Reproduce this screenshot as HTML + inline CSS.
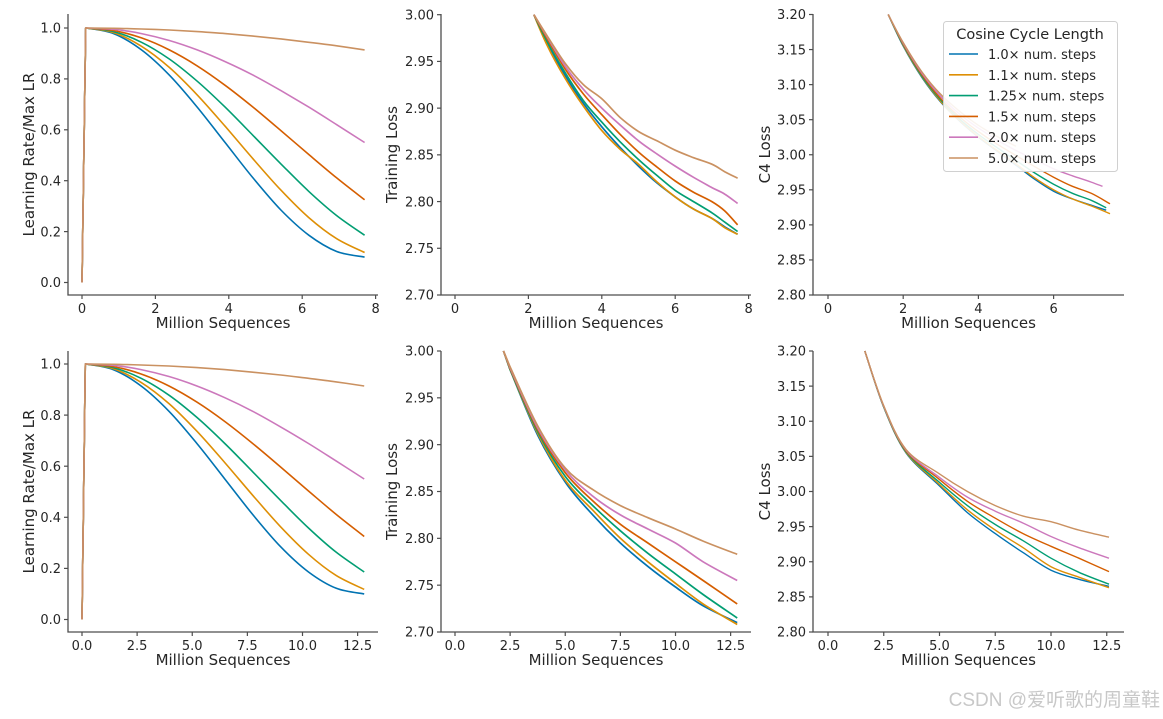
<!DOCTYPE html>
<html><head><meta charset="utf-8">
<style>
html,body{margin:0;padding:0;background:#fff;}
svg{display:block;font-family:"DejaVu Sans","Liberation Sans",sans-serif;}
.tk{font-size:13px;fill:#262626;}
.al{font-size:15px;fill:#262626;}
</style></head>
<body>
<svg id="fig" width="1163" height="719" viewBox="0 0 1163 719"></svg>
<script>
const seriesNames=["1.0× num. steps","1.1× num. steps","1.25× num. steps","1.5× num. steps","2.0× num. steps","5.0× num. steps"];
const seriesColors=["#0173b2","#de8f05","#029e73","#d55e00","#cc78bc","#ca9161"];
// LR schedule: fraction of run and LR values per cycle length
const lrFrac=[0,0.1,0.2,0.3,0.4,0.5,0.6,0.7,0.8,0.9,1.0];
const lrVals=[
[1,0.978,0.914,0.815,0.689,0.55,0.411,0.285,0.186,0.122,0.1],
[1,0.982,0.928,0.845,0.737,0.614,0.486,0.363,0.255,0.172,0.118],
[1,0.986,0.944,0.878,0.791,0.689,0.578,0.466,0.358,0.263,0.186],
[1,0.990,0.961,0.914,0.851,0.775,0.689,0.597,0.503,0.411,0.325],
[1,0.995,0.978,0.951,0.914,0.868,0.815,0.754,0.689,0.620,0.55],
[1,0.999,0.996,0.992,0.986,0.978,0.968,0.957,0.944,0.930,0.914]];
const lrEnd1=7.7, lrWarm1=0.1, lrEnd2=12.8, lrWarm2=0.15;
// Row 1 training loss
const tr1X=[2.15,2.5,3,3.5,4,4.5,5,5.5,6,6.5,7,7.35,7.7];
const tr1Vals=[
[3.0,2.97,2.935,2.905,2.88,2.858,2.838,2.82,2.805,2.792,2.782,2.773,2.765],
[3.0,2.968,2.932,2.902,2.876,2.856,2.84,2.821,2.805,2.792,2.782,2.772,2.765],
[3.0,2.972,2.938,2.908,2.885,2.864,2.845,2.828,2.812,2.8,2.788,2.778,2.768],
[3.0,2.975,2.942,2.915,2.893,2.872,2.853,2.837,2.822,2.81,2.8,2.79,2.775],
[3.0,2.977,2.945,2.92,2.9,2.882,2.865,2.851,2.838,2.826,2.815,2.808,2.798],
[3.0,2.978,2.948,2.925,2.91,2.89,2.875,2.865,2.855,2.847,2.84,2.832,2.825]];
// Row 1 C4 loss
const c41X=[1.6,2,2.5,3,3.5,4,4.5,5,5.5,6,6.5,7,7.45];
const c41Vals=[
[3.2,3.155,3.11,3.075,3.048,3.025,3.005,2.985,2.965,2.948,2.937,2.928,2.920],
[3.2,3.156,3.111,3.076,3.049,3.026,3.006,2.987,2.967,2.950,2.937,2.927,2.916],
[3.2,3.157,3.112,3.078,3.051,3.029,3.01,2.992,2.974,2.958,2.945,2.935,2.923],
[3.2,3.158,3.114,3.08,3.054,3.033,3.015,2.999,2.983,2.968,2.955,2.945,2.930],
[3.2,3.159,3.116,3.083,3.058,3.038,3.021,3.006,2.993,2.980,2.970,2.961,2.952],
[3.2,3.16,3.118,3.086,3.062,3.042,3.026,3.012,3.0,2.99,2.98,2.972,2.965]];
const c41End=[7.4,7.5,7.4,7.5,7.3,5.0];
// Row 2 training loss
const tr2X=[2.2,2.5,3.75,5,6.25,7.5,8.75,10,11.25,12.8];
const tr2Vals=[
[3.0,2.98,2.91,2.86,2.825,2.795,2.77,2.748,2.728,2.710],
[3.0,2.98,2.912,2.862,2.83,2.80,2.775,2.752,2.73,2.708],
[3.0,2.98,2.914,2.866,2.835,2.808,2.784,2.762,2.74,2.715],
[3.0,2.981,2.916,2.87,2.84,2.815,2.795,2.775,2.755,2.73],
[3.0,2.982,2.918,2.873,2.845,2.825,2.81,2.795,2.775,2.755],
[3.0,2.983,2.92,2.875,2.852,2.835,2.822,2.81,2.797,2.783]];
// Row 2 C4 loss
const c42X=[1.65,2.5,3.5,5,6.25,7.5,8.75,10,11.25,12.6];
const c42Vals=[
[3.2,3.12,3.055,3.008,2.97,2.94,2.913,2.888,2.875,2.865],
[3.2,3.12,3.056,3.01,2.974,2.945,2.92,2.893,2.878,2.863],
[3.2,3.12,3.057,3.013,2.98,2.953,2.93,2.905,2.885,2.868],
[3.2,3.121,3.058,3.017,2.986,2.962,2.94,2.922,2.905,2.886],
[3.2,3.121,3.059,3.02,2.992,2.972,2.955,2.936,2.92,2.905],
[3.2,3.122,3.06,3.025,3.0,2.98,2.965,2.957,2.945,2.935]];
const lrTicks=["0.0","0.2","0.4","0.6","0.8","1.0"];
const trTicks=["2.70","2.75","2.80","2.85","2.90","2.95","3.00"];
const c4Ticks=["2.80","2.85","2.90","2.95","3.00","3.05","3.10","3.15","3.20"];
const x1Ticks=["0","2","4","6","8"];
const x1cTicks=["0","2","4","6"];
const x2Ticks=["0.0","2.5","5.0","7.5","10.0","12.5"];

const NS="http://www.w3.org/2000/svg";
const svg=document.getElementById('fig');
function mk(tag,attrs,parent,txt){const e=document.createElementNS(NS,tag);for(const k in attrs)e.setAttribute(k,attrs[k]);if(txt!==undefined)e.textContent=txt;(parent||svg).appendChild(e);return e;}
function smoothPath(P){
  let d='M'+P[0][0].toFixed(1)+','+P[0][1].toFixed(1);
  for(let i=0;i<P.length-1;i++){
    const p0=P[Math.max(0,i-1)],p1=P[i],p2=P[i+1],p3=P[Math.min(P.length-1,i+2)];
    if(p2[0]-p1[0]<8){d+='L'+p2[0].toFixed(1)+','+p2[1].toFixed(1);continue;}
    const a=(i>0&&P[i][0]-P[i-1][0]<8)?p1:p0;
    const c1=[p1[0]+(p2[0]-a[0])/6,p1[1]+(p2[1]-a[1])/6];
    const c2=[p2[0]-(p3[0]-p1[0])/6,p2[1]-(p3[1]-p1[1])/6];
    d+='C'+c1[0].toFixed(1)+','+c1[1].toFixed(1)+' '+c2[0].toFixed(1)+','+c2[1].toFixed(1)+' '+p2[0].toFixed(1)+','+p2[1].toFixed(1);
  }
  return d;
}
function panel(p){
  const g=mk('g',{});
  
  
  const X=v=>p.x0+v*p.xs;
  const Y=v=>p.yA+(v-p.vA)*(p.yB-p.yA)/(p.vB-p.vA);
  p.series.forEach((s,i)=>{
    const pts=s.x.map((xv,j)=>[X(xv),Y(s.y[j])]);
    const path=mk('path',{d:smoothPath(pts),fill:'none',stroke:seriesColors[i],'stroke-width':p.sw||1.6,'stroke-linejoin':'round'},g);
    
    
  });
  const sp=mk('path',{d:`M${p.l},${p.t}V${p.b}H${p.r}`,fill:'none',stroke:'#4d4d4d','stroke-width':1.3},g);
  
  
  p.yt.forEach(t=>{const y=Y(parseFloat(t));
    mk('line',{x1:p.l-4,x2:p.l,y1:y,y2:y,stroke:'#4d4d4d','stroke-width':1.2},g);
    const tx=mk('text',{x:p.l-7,y:y+4.7,'text-anchor':'end',class:'tk'},g,t);
    
    
  });
  p.xt.forEach(t=>{const x=X(parseFloat(t));
    mk('line',{x1:x,x2:x,y1:p.b,y2:p.b+4,stroke:'#4d4d4d','stroke-width':1.2},g);
    const tx=mk('text',{x:x,y:p.b+18,'text-anchor':'middle',class:'tk'},g,t);
    
    
  });
  const xl=mk('text',{x:(p.l+p.r)/2,y:p.b+33,'text-anchor':'middle',class:'al'},g,'Million Sequences');
  
  
  const cy=(p.t+p.b)/2;
  const yl=mk('text',{x:p.ylx,y:cy,'text-anchor':'middle',class:'al',transform:`rotate(-90 ${p.ylx} ${cy})`},g,p.ylab);
  
  
}
function lrSeries(end,warm){return lrVals.map(v=>({x:[0].concat(lrFrac.map(u=>warm+u*(end-warm))),y:[0].concat(v)}));}
function simple(xs,vals,ends){return vals.map((v,i)=>{let x=xs.slice(),y=v.slice();if(ends){const n=x.filter(a=>a<ends[i]).length;x=x.slice(0,n);y=y.slice(0,n);const k=n-1;if(x[k]<ends[i]&&n<xs.length){const f=(ends[i]-xs[k])/(xs[k+1]-xs[k]);x.push(ends[i]);y.push(v[k]+f*(v[k+1]-v[k]));}else{x[k]=ends[i];}}return {x:x,y:y};});}

const s1=36.7, s2=22.05;
panel({name:'lr-panel-top',l:68,r:378,t:14,b:295,x0:82,xs:s1,vA:1,yA:28,vB:0,yB:282.5,yt:lrTicks,xt:x1Ticks,series:lrSeries(lrEnd1,lrWarm1),ylx:34,ylab:'Learning Rate/Max LR'});
panel({name:'train-loss-top',l:441,r:751,t:14,b:295,x0:455,xs:s1,vA:3.0,yA:14.7,vB:2.7,yB:295,yt:trTicks,xt:x1Ticks,series:simple(tr1X,tr1Vals),ylx:397,ylab:'Training Loss',sw:1.7});
panel({name:'c4-loss-top',l:813,r:1124,t:14,b:295,x0:828,xs:37.6,vA:3.2,yA:14.5,vB:2.8,yB:295,yt:c4Ticks,xt:x1cTicks,series:simple(c41X,c41Vals,c41End),ylx:770,ylab:'C4 Loss',sw:1.4});
panel({name:'lr-panel-bottom',l:68,r:378,t:351,b:632,x0:82,xs:s2,vA:1,yA:364,vB:0,yB:619.5,yt:lrTicks,xt:x2Ticks,series:lrSeries(lrEnd2,lrWarm2),ylx:34,ylab:'Learning Rate/Max LR'});
panel({name:'train-loss-bottom',l:441,r:751,t:351,b:632,x0:455,xs:s2,vA:3.0,yA:351,vB:2.7,yB:632,yt:trTicks,xt:x2Ticks,series:simple(tr2X,tr2Vals),ylx:397,ylab:'Training Loss',sw:1.7});
panel({name:'c4-loss-bottom',l:813,r:1124,t:351,b:632,x0:828,xs:22.3,vA:3.2,yA:351,vB:2.8,yB:632,yt:c4Ticks,xt:x2Ticks,series:simple(c42X,c42Vals),ylx:770,ylab:'C4 Loss',sw:1.4});

const lg=mk('g',{});


mk('rect',{x:943.5,y:21.5,width:174,height:150,rx:3,fill:'#fff','fill-opacity':0.9,stroke:'#d0d0d0'},lg);
mk('text',{x:1030,y:39,'text-anchor':'middle',style:'font-size:14.5px;fill:#262626'},lg,'Cosine Cycle Length');
seriesNames.forEach((n,i)=>{const y=54+i*20.8;
  const e=mk('g',{},lg);
  
  
  mk('line',{x1:949,x2:978,y1:y,y2:y,stroke:seriesColors[i],'stroke-width':1.6},e);
  mk('text',{x:988,y:y+5,style:'font-size:13px;fill:#262626'},e,n);
});
const wm=mk('text',{x:1160,y:706,'text-anchor':'end',style:'font-size:19px;fill:#c8c8c8;font-family:"Liberation Sans","Noto Sans CJK SC",sans-serif'},svg,'CSDN @爱听歌的周童鞋');


</script>
</body></html>
